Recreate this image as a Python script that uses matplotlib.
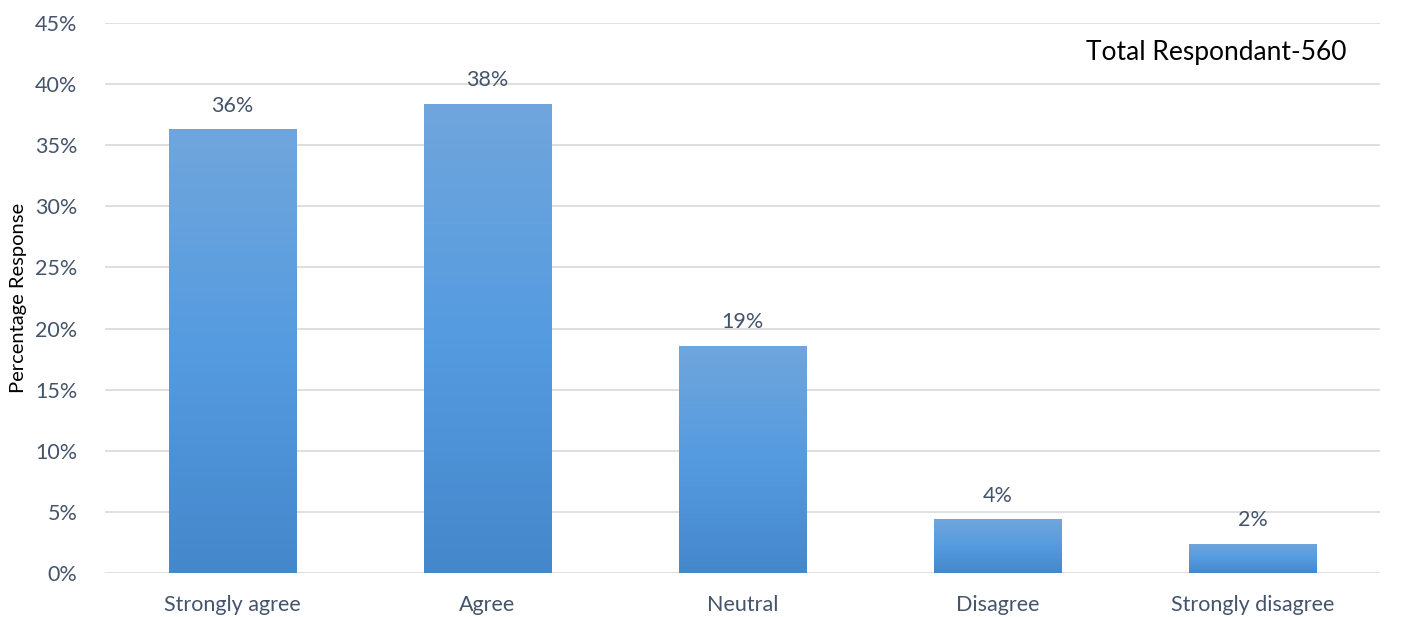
import matplotlib
matplotlib.use('Agg')
import matplotlib.pyplot as plt
import numpy as np
from matplotlib.colors import LinearSegmentedColormap

categories = ['Strongly agree', 'Agree', 'Neutral', 'Disagree', 'Strongly disagree']
values = [36.3, 38.4, 18.6, 4.4, 2.4]
value_labels = ['36%', '38%', '19%', '4%', '2%']
yticks = [0, 5, 10, 15, 20, 25, 30, 35, 40, 45]

plt.rcParams['font.family'] = ['Lato', 'DejaVu Sans']

fig = plt.figure(figsize=(14.01, 6.17), dpi=100)
ax = fig.add_axes([0.075, 0.0713, 0.910, 0.8914])

# vertical gradient for the bars
cmap = LinearSegmentedColormap.from_list('bar', ['#4587cb', '#559be0', '#70a6dc'])
grad = np.linspace(0, 1, 256).reshape(-1, 1)

x = np.arange(len(categories))
width = 0.5
bars = ax.bar(x, values, width=width, color='none', zorder=3)
for b in bars:
	x0, y0 = b.get_x(), b.get_y()
	im = ax.imshow(grad, cmap=cmap, origin='lower', aspect='auto',
				   extent=[x0, x0 + b.get_width(), y0, y0 + b.get_height()], zorder=3)
	im.set_clip_path(b)

for xi, v, lab in zip(x, values, value_labels):
	ax.text(xi, v + 1.1, lab, ha='center', va='bottom', fontsize=15.5, color='#44546a')

ax.set_xlim(-0.5, len(categories) - 0.5)
ax.set_ylim(0, 45)
ax.set_yticks(yticks)
ax.set_yticklabels([f'{t}%' for t in yticks])
ax.set_xticks(x)
ax.set_xticklabels(categories)
ax.tick_params(axis='both', length=0, labelsize=15.5, labelcolor='#44546a')
ax.tick_params(axis='x', pad=16)
ax.tick_params(axis='y', pad=20)
ax.yaxis.grid(True, color='#d9d9d9', linewidth=1.2, zorder=0)
ax.set_axisbelow(True)
for s in ax.spines.values():
	s.set_visible(False)

ax.set_ylabel('Percentage Response', fontsize=14.5, color='black', labelpad=6)

ax.text(4.37, 42.55, 'Total Respondant-560', ha='right', va='center',
		fontsize=19, color='black', zorder=5)

fig.savefig('out.png', dpi=100)
